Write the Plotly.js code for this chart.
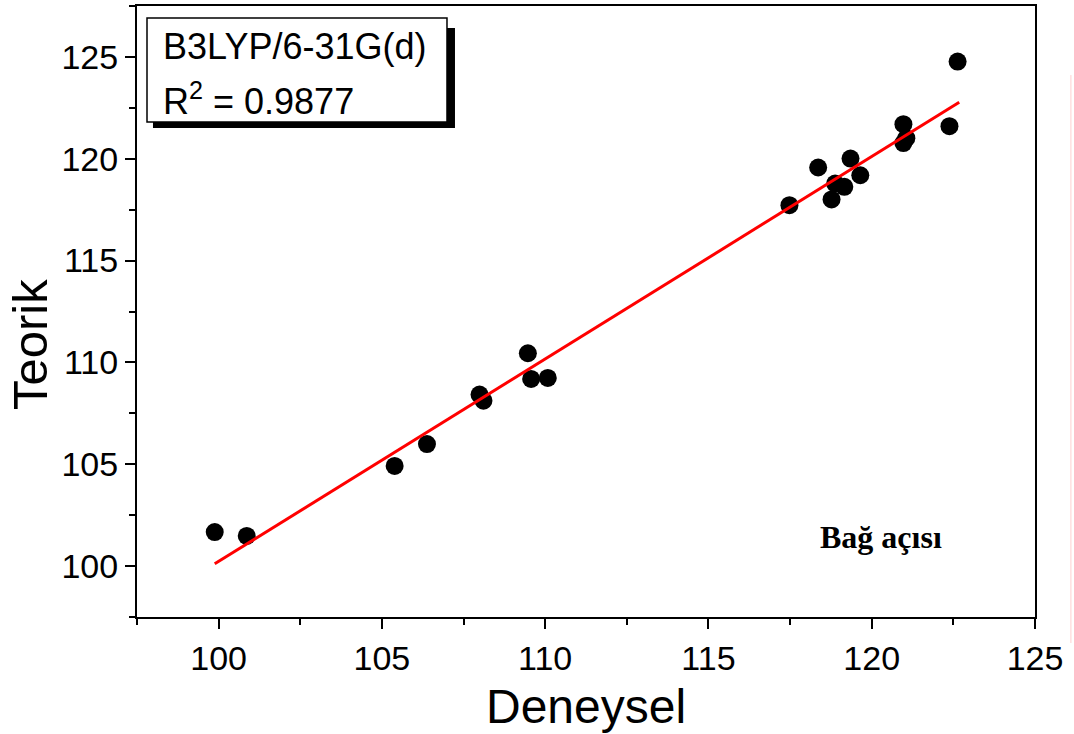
<!DOCTYPE html>
<html>
<head>
<meta charset="utf-8">
<script src="https://cdn.plot.ly/plotly-3.0.1.min.js"></script>
<style>html,body{margin:0;padding:0;background:#fff;}#chart{width:1074px;height:734px;}</style>
</head>
<body>
<div id="chart"></div>
<script>
// Experimental (Deneysel) vs theoretical (Teorik) bond angles
const deneysel = [99.88, 100.86, 105.39, 106.38, 107.99, 108.11, 109.47, 109.57, 110.08,
                  117.48, 118.36, 118.88, 119.16, 118.77, 119.35, 119.65,
                  120.97, 121.06, 120.97, 122.38, 122.63];
const teorik   = [101.67, 101.48, 104.92, 105.99, 108.42, 108.12, 110.45, 109.19, 109.24,
                  117.72, 119.57, 118.78, 118.62, 118.00, 120.01, 119.19,
                  121.70, 121.01, 120.77, 121.60, 124.77];
// Linear fit line endpoints
const fitX = [99.88, 122.68];
const fitY = [100.11, 122.77];

const xTicks = [100, 105, 110, 115, 120, 125];
const yTicks = [100, 105, 110, 115, 120, 125];

const methodLabel = 'B3LYP/6-31G(d)';
const r2Label = 'R<sup>2</sup> = 0.9877';
const noteLabel = 'Bağ açısı';
const xTitle = 'Deneysel';
const yTitle = 'Teorik';

const FONT = 'Liberation Sans, Arial, sans-serif';

const traces = [
  {
    x: deneysel, y: teorik, type: 'scatter', mode: 'markers',
    marker: {color: '#000', size: 18, line: {width: 0}},
    hoverinfo: 'x+y', showlegend: false
  },
  {
    x: fitX, y: fitY, type: 'scatter', mode: 'lines',
    line: {color: '#ff0000', width: 3},
    showlegend: false
  }
];

const axisCommon = {
  showgrid: false, zeroline: false,
  showline: true, linecolor: '#000', linewidth: 2, mirror: true,
  ticks: 'outside', ticklen: 10, tickwidth: 2, tickcolor: '#000',
  tickfont: {family: FONT, size: 34, color: '#000'},
  minor: {dtick: 2.5, ticks: 'outside', ticklen: 6, tickwidth: 2, tickcolor: '#000', showgrid: false}
};

const layout = {
  width: 1074, height: 734,
  margin: {l: 137, r: 39, t: 6, b: 117, pad: 0},
  paper_bgcolor: '#fff', plot_bgcolor: '#fff',
  xaxis: Object.assign({}, axisCommon, {
    range: [97.5, 125], tickmode: 'array', tickvals: xTicks, ticktext: xTicks.map(String)
  }),
  yaxis: Object.assign({}, axisCommon, {
    range: [97.5, 127.5], tickmode: 'array', tickvals: yTicks, ticktext: yTicks.map(String)
  }),
  shapes: [
    {type: 'rect', xref: 'paper', yref: 'paper', x0: 0.0178, x1: 0.3541, y0: 0.8003, y1: 0.964,
     fillcolor: '#000', line: {width: 0}},
    {type: 'rect', xref: 'paper', yref: 'paper', x0: 0.01114, x1: 0.3452, y0: 0.8101, y1: 0.9804,
     fillcolor: '#fff', line: {color: '#000', width: 1.5}},
    {type: 'line', xref: 'paper', yref: 'paper', x0: 1.040, x1: 1.040, y0: -0.0426, y1: 0.887,
     line: {color: '#ffd0d0', width: 1}}
  ],
  annotations: [
    {text: methodLabel, xref: 'paper', yref: 'paper', x: 0.0265, y: 0.9345,
     xanchor: 'left', yanchor: 'middle', showarrow: false,
     font: {family: FONT, size: 36, color: '#000'}},
    {text: r2Label, xref: 'paper', yref: 'paper', x: 0.0265, y: 0.847,
     xanchor: 'left', yanchor: 'middle', showarrow: false,
     font: {family: FONT, size: 36, color: '#000'}},
    {text: '<b>' + noteLabel + '</b>', xref: 'paper', yref: 'paper', x: 0.8285, y: 0.131,
     xanchor: 'center', yanchor: 'middle', showarrow: false,
     font: {family: 'Liberation Serif, Times New Roman, serif', size: 32, color: '#000'}},
    {text: xTitle, xref: 'paper', yref: 'paper', x: 0.5, y: -0.1457,
     xanchor: 'center', yanchor: 'middle', showarrow: false,
     font: {family: FONT, size: 48, color: '#000'}},
    {text: yTitle, xref: 'paper', yref: 'paper', x: -0.1192, y: 0.4468, textangle: -90,
     xanchor: 'center', yanchor: 'middle', showarrow: false,
     font: {family: FONT, size: 49, color: '#000'}}
  ]
};

Plotly.newPlot('chart', traces, layout, {displayModeBar: false, staticPlot: true});
</script>
</body>
</html>
